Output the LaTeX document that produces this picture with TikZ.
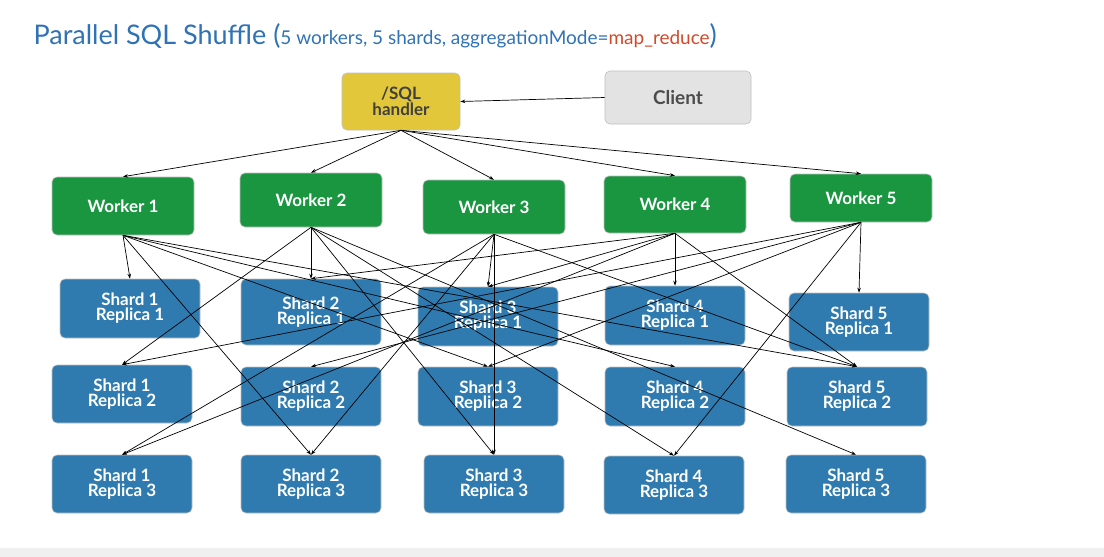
\documentclass[tikz,border=0pt]{standalone}
\usepackage{fontspec}
\setmainfont{Lato}
\usetikzlibrary{arrows.meta}
\definecolor{tblue}{HTML}{2F72B5}
\definecolor{tred}{HTML}{D04A2A}
\definecolor{wgreen}{HTML}{1A9641}
\definecolor{sblue}{HTML}{2F7BB0}
\definecolor{hyel}{HTML}{E2C73A}
\begin{document}
\begin{tikzpicture}[x=1pt,y=-1pt,
  box/.style={rounded corners=5pt,inner sep=0pt,align=center,text=white,font=\fontsize{17}{15}\selectfont\bfseries,draw=black!25,line width=0.6pt},
  wk/.style={box,fill=wgreen},
  sh/.style={box,fill=sblue},
  ar/.style={-{Stealth[length=5pt,width=3.5pt]},line width=0.7pt}]
\useasboundingbox (0,0) rectangle (1104,557);
\fill[black!6] (0,548) rectangle (1104,557);
\node[anchor=west,text=tblue,font=\fontsize{27}{30}\selectfont] (title) at (30,36) {Parallel SQL Shuffle (\fontsize{19}{22}\selectfont 5 workers, 5 shards, aggregationMode=\textcolor{tred}{map\_reduce}\fontsize{27}{30}\selectfont)};
\newcommand\bx[6]{\node[#1,minimum width=#4-#2,minimum height=#5-#3] (#6) at ({(#2+#4)/2},{(#3+#5)/2})}
\bx{box,fill=hyel,text=black!75}{342}{73}{460}{130}{h} {/SQL\\handler};
\bx{box,fill=black!11,text=black!70,font=\fontsize{19}{20}\selectfont\bfseries}{605}{71}{751}{124}{c} {Client};
\bx{wk}{52}{177}{194}{235}{w1} {Worker 1};
\bx{wk}{240}{173}{382}{227}{w2} {Worker 2};
\bx{wk}{423}{180}{565}{234}{w3} {Worker 3};
\bx{wk}{604}{176}{746}{233}{w4} {Worker 4};
\bx{wk}{790}{174}{932}{222}{w5} {Worker 5};
\bx{sh}{60}{279}{200}{338}{s11} {Shard 1\\Replica 1};
\bx{sh}{241}{279}{381}{345}{s21} {Shard 2\\Replica 1};
\bx{sh}{418}{287}{558}{346}{s31} {Shard 3\\Replica 1};
\bx{sh}{605}{286}{745}{345}{s41} {Shard 4\\Replica 1};
\bx{sh}{789}{293}{929}{351}{s51} {Shard 5\\Replica 1};
\bx{sh}{52}{365}{192}{423}{s12} {Shard 1\\Replica 2};
\bx{sh}{241}{367}{381}{426}{s22} {Shard 2\\Replica 2};
\bx{sh}{418}{367}{558}{426}{s32} {Shard 3\\Replica 2};
\bx{sh}{605}{367}{745}{426}{s42} {Shard 4\\Replica 2};
\bx{sh}{787}{367}{927}{426}{s52} {Shard 5\\Replica 2};
\bx{sh}{52}{455}{192}{513}{s13} {Shard 1\\Replica 3};
\bx{sh}{241}{455}{381}{513}{s23} {Shard 2\\Replica 3};
\bx{sh}{424}{455}{564}{513}{s33} {Shard 3\\Replica 3};
\bx{sh}{604}{456}{744}{514}{s43} {Shard 4\\Replica 3};
\bx{sh}{786}{455}{926}{513}{s53} {Shard 5\\Replica 3};
\draw[ar] (c.west) -- (h.east);
\foreach \w in {w1,w2,w3,w4,w5} \draw[ar] (h.south) -- (\w.north);
\foreach \w/\s in {w1/s11,w1/s23,w1/s32,w1/s42,w1/s52,
  w2/s12,w2/s33,w2/s43,w2/s53,w2/s21,
  w3/s13,w3/s23,w3/s33,w3/s31,w3/s52,
  w4/s13,w4/s21,w4/s31,w4/s41,w4/s52,
  w5/s51,w5/s43,w5/s32,w5/s22,w5/s12}
  \draw[ar] (\w.south) -- (\s.north);
\end{tikzpicture}
\end{document}
